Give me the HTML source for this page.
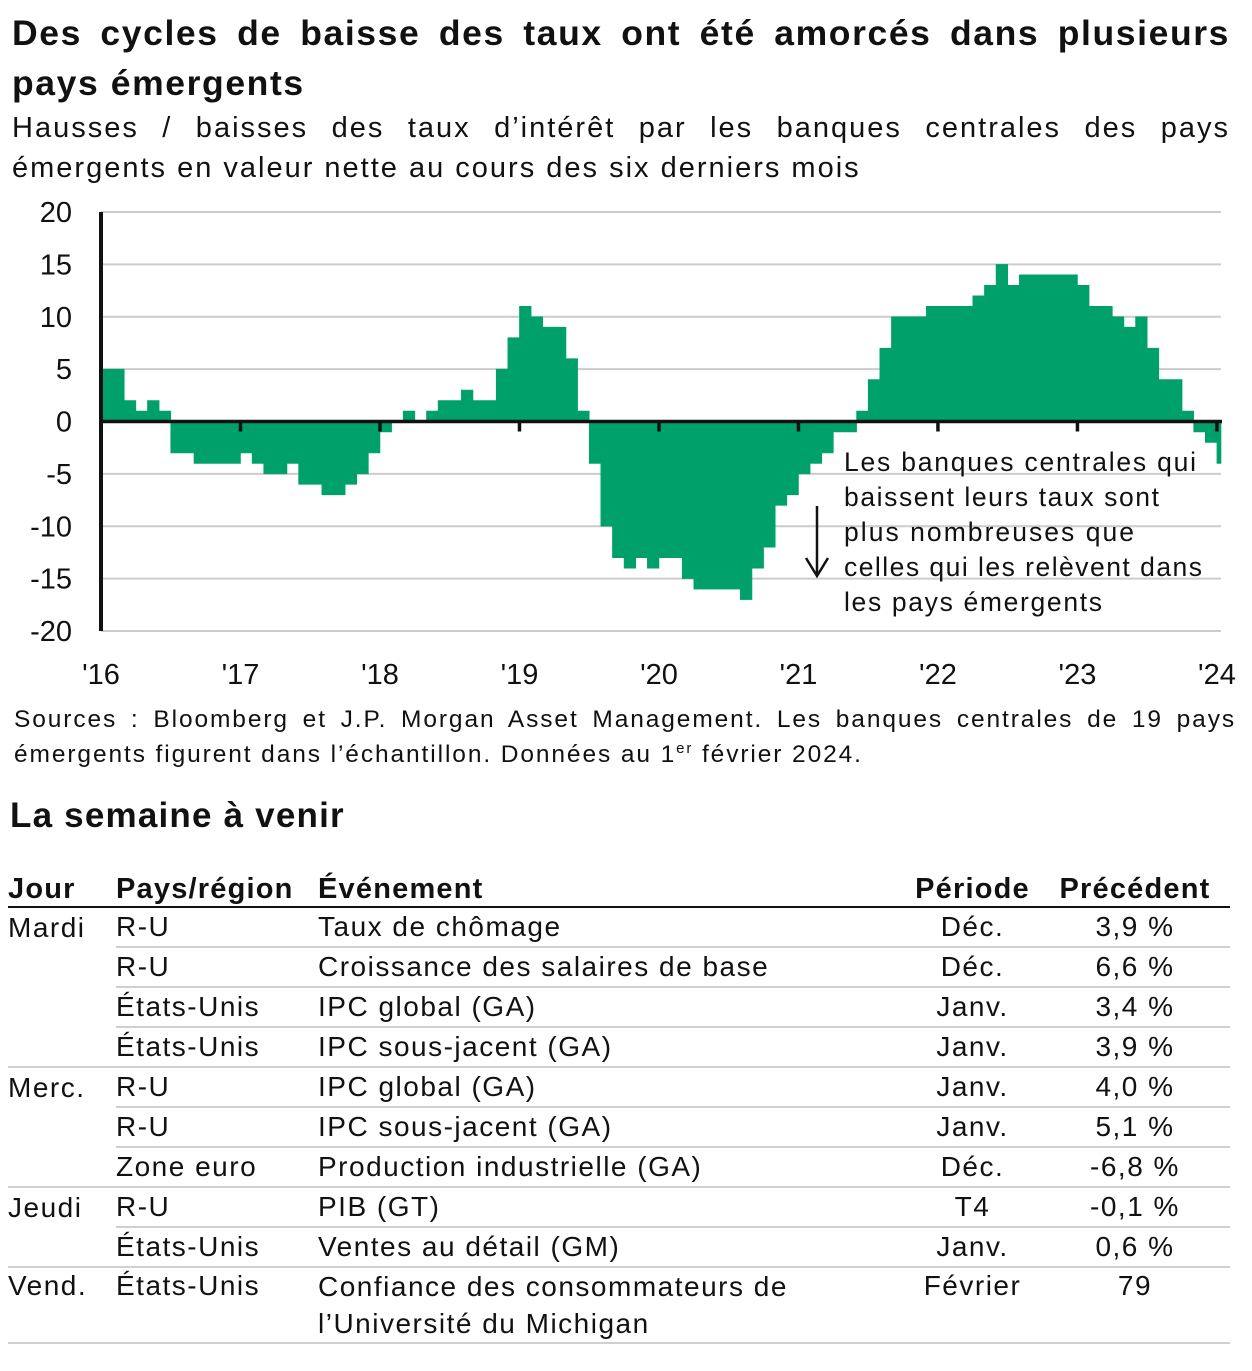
<!DOCTYPE html>
<html><head><meta charset="utf-8">
<style>
body{margin:0;width:1252px;height:1371px;background:#fff;font-family:"Liberation Sans",sans-serif;color:#111;position:relative;overflow:hidden}
.abs{position:absolute}
.j{text-align:justify;text-align-last:justify;white-space:nowrap}
#title{left:12px;top:8px;width:1218px;font-size:35.5px;font-weight:bold;line-height:50px;letter-spacing:1.6px}
#subtitle{left:12px;top:108px;width:1218px;font-size:29px;line-height:40px;letter-spacing:2px}
#sources{left:14px;top:702px;width:1222px;font-size:24.5px;line-height:35px;letter-spacing:1.9px}
#week{left:10px;top:796px;font-size:35px;font-weight:bold;letter-spacing:1.2px}
table{position:absolute;left:8px;top:868px;width:1222px;border-collapse:collapse;font-size:28px;letter-spacing:1.5px}
th{font-weight:bold;text-align:left;height:38px;border-bottom:2px solid #111;padding:0;font-size:29px;vertical-align:bottom;letter-spacing:1.2px}
td{height:38px;padding:0;vertical-align:middle;border-bottom:2px solid #d0d0d0;line-height:36px}
td.nb{border-bottom:none}
.c{text-align:center}
</style></head><body>
<div id="title" class="abs"><div class="j">Des cycles de baisse des taux ont été amorcés dans plusieurs</div><div>pays émergents</div></div>
<div id="subtitle" class="abs"><div class="j">Hausses / baisses des taux d’intérêt par les banques centrales des pays</div><div>émergents en valeur nette au cours des six derniers mois</div></div>
<svg class="abs" style="left:0;top:190px" width="1252" height="510">
<g id="grid"></g><g id="bars"></g><g id="axes"></g>
<g font-size="26.5" fill="#111">
<text x="844" y="281" textLength="352">Les banques centrales qui</text>
<text x="844" y="316" textLength="315">baissent leurs taux sont</text>
<text x="844" y="351" textLength="290">plus nombreuses que</text>
<text x="844" y="386" textLength="358">celles qui les relèvent dans</text>
<text x="844" y="421" textLength="258">les pays émergents</text>
<line x1="817" y1="316" x2="817" y2="384" stroke="#111" stroke-width="2.5"/>
<polyline points="806,368 817,386 828,368" fill="none" stroke="#111" stroke-width="2.5"/>
</g>
</svg>
<div id="sources" class="abs"><div class="j">Sources : Bloomberg et J.P. Morgan Asset Management. Les banques centrales de 19 pays</div><div>émergents figurent dans l’échantillon. Données au 1<sup style="font-size:15px;line-height:0">er</sup> février 2024.</div></div>
<div id="week" class="abs">La semaine à venir</div>
<table>
<tr><th style="width:108px">Jour</th><th style="width:202px">Pays/région</th><th>Événement</th><th class="c" style="width:135px">Période</th><th class="c" style="width:190px">Précédent</th></tr>
<tr><td class="nb">Mardi</td><td>R-U</td><td>Taux de chômage</td><td class="c">Déc.</td><td class="c">3,9 %</td></tr>
<tr><td class="nb"></td><td>R-U</td><td>Croissance des salaires de base</td><td class="c">Déc.</td><td class="c">6,6 %</td></tr>
<tr><td class="nb"></td><td>États-Unis</td><td>IPC global (GA)</td><td class="c">Janv.</td><td class="c">3,4 %</td></tr>
<tr><td></td><td>États-Unis</td><td>IPC sous-jacent (GA)</td><td class="c">Janv.</td><td class="c">3,9 %</td></tr>
<tr><td class="nb">Merc.</td><td>R-U</td><td>IPC global (GA)</td><td class="c">Janv.</td><td class="c">4,0 %</td></tr>
<tr><td class="nb"></td><td>R-U</td><td>IPC sous-jacent (GA)</td><td class="c">Janv.</td><td class="c">5,1 %</td></tr>
<tr><td></td><td>Zone euro</td><td>Production industrielle (GA)</td><td class="c">Déc.</td><td class="c">-6,8 %</td></tr>
<tr><td class="nb">Jeudi</td><td>R-U</td><td>PIB (GT)</td><td class="c">T4</td><td class="c">-0,1 %</td></tr>
<tr><td></td><td>États-Unis</td><td>Ventes au détail (GM)</td><td class="c">Janv.</td><td class="c">0,6 %</td></tr>
<tr><td style="vertical-align:top">Vend.</td><td style="vertical-align:top">États-Unis</td><td style="line-height:37px">Confiance des consommateurs de<br>l’Université du Michigan</td><td class="c" style="vertical-align:top">Février</td><td class="c" style="vertical-align:top">79</td></tr>
</table>
<script>
const yTicks=[20,15,10,5,0,-5,-10,-15,-20];
const xLabels=["'16","'17","'18","'19","'20","'21","'22","'23","'24"];
const values=[
5,5,2,1,2,1,-3,-3,-4,-4,-4,-4,
-3,-4,-5,-5,-4,-6,-6,-7,-7,-6,-5,-3,
-1,0,1,0,1,2,2,3,2,2,5,8,
11,10,9,9,6,1,-4,-10,-13,-14,-13,-14,
-13,-13,-15,-16,-16,-16,-16,-17,-14,-12,-8,-7,
-5,-4,-3,-1,-1,1,4,7,10,10,10,11,
11,11,11,12,13,15,13,14,14,14,14,14,
13,11,11,10,9,10,7,4,4,1,-1,-2,
-4];
const NS="http://www.w3.org/2000/svg";
const x0=101,x1=1221,yTop=22,yBot=441;
const months=96.35;
function xs(m){return x0+m*(x1-x0)/months;}
function ys(v){return yTop+(20-v)*(yBot-yTop)/40;}
const grid=document.getElementById('grid'),bars=document.getElementById('bars'),axes=document.getElementById('axes');
yTicks.forEach(t=>{
 if(t!==0){const l=document.createElementNS(NS,'line');
 
 
 l.setAttribute('x1',x0);l.setAttribute('x2',x1);l.setAttribute('y1',ys(t));l.setAttribute('y2',ys(t));
 l.setAttribute('stroke','#cccccc');l.setAttribute('stroke-width','2');grid.appendChild(l);}
 const tx=document.createElementNS(NS,'text');
 
 
 tx.setAttribute('x',72);tx.setAttribute('y',ys(t)+10);tx.setAttribute('text-anchor','end');tx.setAttribute('font-size','29');tx.setAttribute('fill','#111');
 tx.textContent=t;axes.appendChild(tx);
});
let d='';
values.forEach((v,i)=>{
 const a=xs(i),b=Math.min(xs(i+1),x1);
 d+=`M${a},${ys(0)}V${ys(v)}H${b}V${ys(0)}Z`;
});
const p=document.createElementNS(NS,'path');


p.setAttribute('d',d);p.setAttribute('fill','#00a06b');p.setAttribute('stroke','#00a06b');p.setAttribute('stroke-width','0.6');bars.appendChild(p);
const va=document.createElementNS(NS,'line');


va.setAttribute('x1',x0);va.setAttribute('x2',x0);va.setAttribute('y1',yTop);va.setAttribute('y2',yBot);va.setAttribute('stroke','#111');va.setAttribute('stroke-width','4');axes.appendChild(va);
const ha=document.createElementNS(NS,'line');


ha.setAttribute('x1',x0);ha.setAttribute('x2',x1+1);ha.setAttribute('y1',ys(0));ha.setAttribute('y2',ys(0));ha.setAttribute('stroke','#111');ha.setAttribute('stroke-width','3.5');axes.appendChild(ha);
xLabels.forEach((lab,i)=>{
 const x=xs(i*12);
 if(i>0){const tk=document.createElementNS(NS,'line');
 
 
 tk.setAttribute('x1',x);tk.setAttribute('x2',x);tk.setAttribute('y1',ys(0));tk.setAttribute('y2',ys(0)+10);tk.setAttribute('stroke','#111');tk.setAttribute('stroke-width','3.5');axes.appendChild(tk);}
 const tx=document.createElementNS(NS,'text');
 
 
 tx.setAttribute('x',x);tx.setAttribute('y',494);tx.setAttribute('text-anchor','middle');tx.setAttribute('font-size','29');tx.setAttribute('fill','#111');
 tx.textContent=lab;axes.appendChild(tx);
});
</script>
</body></html>
